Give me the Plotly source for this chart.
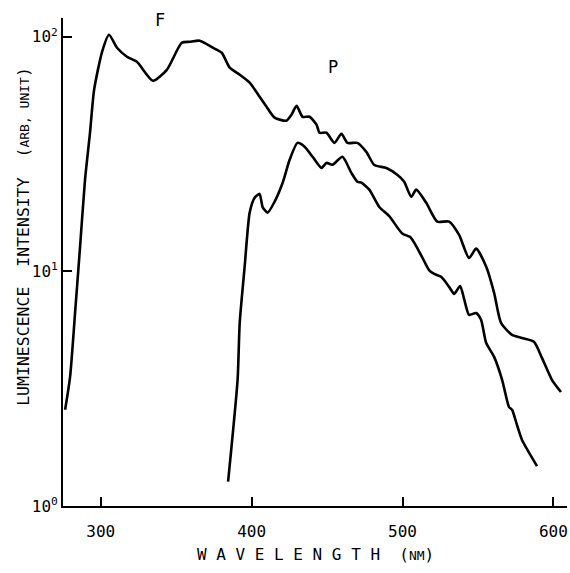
import plotly.graph_objects as go

# F curve (fluorescence)
f_wavelength = [276.4, 279.7, 283.0, 286.3, 289.6, 292.9, 295.6, 300.9, 305.5, 310.8,
                317.4, 324.0, 334.6, 343.8, 353.7, 359.0, 365.6, 374.3, 380.2, 385.5,
                392.1, 398.7, 405.3, 409.9, 415.2, 423.1, 426.4, 429.8, 433.7, 438.4,
                443.0, 445.0, 449.6, 454.9, 459.5, 463.5, 470.1, 476.0, 481.3, 489.3,
                496.5, 501.1, 505.8, 509.1, 515.7, 523.0, 530.9, 537.5, 544.1, 548.8,
                555.4, 560.7, 565.3, 572.6, 579.2, 587.1, 592.4, 599.0, 605.0]
f_intensity = [2.57, 3.55, 6.65, 12.7, 24.6, 39.0, 59.4, 86.3, 102, 89.8,
               82.2, 78.2, 64.9, 72.3, 94.3, 95.2, 96.2, 89.8, 85.5, 73.8,
               68.9, 63.7, 55.5, 50.3, 45.2, 43.9, 46.5, 50.8, 45.6, 45.6,
               42.2, 39.0, 39.0, 35.3, 38.6, 35.3, 35.3, 32.3, 28.4, 27.6,
               25.8, 24.1, 20.8, 22.3, 19.6, 16.3, 16.3, 14.3, 11.4, 12.5,
               10.5, 8.10, 6.03, 5.36, 5.20, 5.01, 4.28, 3.45, 3.06]

# P curve (phosphorescence)
p_wavelength = [384.4, 390.7, 392.1, 395.4, 398.7, 402.0, 405.3, 407.3, 410.6, 415.2,
                420.5, 425.2, 430.4, 435.1, 440.4, 446.3, 449.6, 453.6, 460.2, 466.1,
                470.1, 472.7, 478.0, 484.6, 491.2, 499.8, 505.1, 509.7, 513.0, 517.7,
                521.0, 525.6, 530.9, 534.2, 538.2, 540.8, 544.1, 548.8, 552.1, 555.4,
                560.7, 566.0, 570.6, 572.6, 575.9, 579.2, 589.1]
p_intensity = [1.27, 3.45, 6.03, 10.5, 17.8, 20.6, 21.4, 18.8, 17.8, 19.8,
               23.8, 29.9, 35.3, 34.0, 30.8, 27.6, 29.0, 28.5, 30.8, 26.3,
               24.1, 23.9, 22.3, 18.8, 17.2, 14.5, 14.0, 12.6, 11.5, 10.1,
               9.76, 9.48, 8.59, 8.02, 8.67, 7.64, 6.53, 6.65, 6.21, 4.96,
               4.32, 3.45, 2.64, 2.57, 2.21, 1.91, 1.48]

x_ticks = [300, 400, 500, 600]
y_ticks = [1, 10, 100]
y_ticktext = ["10<sup>0</sup>", "10<sup>1</sup>", "10<sup>2</sup>"]

FONT = "DejaVu Sans Mono, Liberation Mono, monospace"
NB = "\u00a0"

fig = go.Figure()
fig.add_trace(go.Scatter(x=f_wavelength, y=f_intensity, mode="lines",
                         line=dict(color="black", width=2.6, shape="spline", smoothing=0.6),
                         showlegend=False))
fig.add_trace(go.Scatter(x=p_wavelength, y=p_intensity, mode="lines",
                         line=dict(color="black", width=2.6, shape="spline", smoothing=0.6),
                         showlegend=False))

fig.add_annotation(x=339, y=2.072, text="F", showarrow=False,
                   font=dict(family=FONT, size=17, color="black"))
fig.add_annotation(x=453.6, y=1.872, text="P", showarrow=False,
                   font=dict(family=FONT, size=17, color="black"))

ytitle = ("LUMINESCENCE" + NB * 2 + "INTENSITY" + NB * 2 +
          "(<span style='font-size:13px'>ARB," + NB + "UNIT</span>)")
fig.add_annotation(xref="paper", yref="paper", x=-0.08, y=0.553, text=ytitle,
                   textangle=-90, showarrow=False, xanchor="center", yanchor="middle",
                   font=dict(family=FONT, size=16.5, color="black"))

xtitle = NB.join(list("WAVELENGTH")) + NB * 2 + "(<span style='font-size:13px'>NM</span>)"
fig.add_annotation(xref="paper", yref="paper", x=0.5, y=-0.1, text=xtitle,
                   showarrow=False, xanchor="center", yanchor="middle",
                   font=dict(family=FONT, size=16, color="black"))

fig.update_xaxes(range=[275, 609], tickvals=x_ticks, ticks="inside", ticklen=9,
                 tickwidth=2, tickcolor="black", showline=True, linecolor="black",
                 linewidth=2, showgrid=False, zeroline=False, mirror=False,
                 ticklabelstandoff=10, automargin=False,
                 tickfont=dict(family=FONT, size=16, color="black"))
fig.update_yaxes(type="log", range=[0, 2.08], tickvals=y_ticks, ticktext=y_ticktext,
                 ticks="inside", ticklen=9, tickwidth=2, tickcolor="black",
                 showline=True, linecolor="black", linewidth=2, showgrid=False,
                 zeroline=False, mirror=False, automargin=False,
                 tickfont=dict(family=FONT, size=16, color="black"))

fig.update_layout(width=570, height=573, margin=dict(l=63, r=3, t=18, b=67),
                  plot_bgcolor="white", paper_bgcolor="white")

fig.write_html("out.html", config={"displayModeBar": False},
               post_script="document.body.style.margin='0';document.body.style.overflow='hidden';")
